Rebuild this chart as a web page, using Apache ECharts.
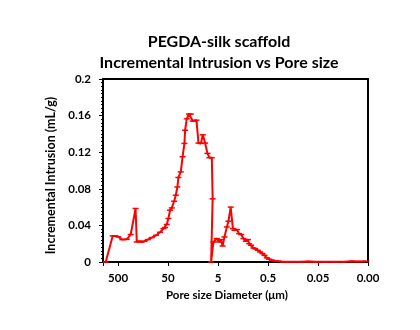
<!DOCTYPE html>
<html>
<head>
<meta charset="utf-8">
<script src="https://cdn.jsdelivr.net/npm/echarts@6/dist/echarts.min.js"></script>
<style>
html,body{margin:0;padding:0;background:#fff;}
#chart{width:420px;height:330px;}
</style>
</head>
<body>
<div id="chart"></div>
<script>
// Pore size diameter (µm), in measurement order
const poreDiameter = [
  883, 640, 562, 493, 410, 335, 279, 223, 211, 188, 168, 149, 127, 106, 86.9, 72.1, 61.9, 57.3, 53.0, 49.2,
  45.5, 42.1, 37.8, 35.0, 32.5, 31.0, 27.8, 25.6, 23.5, 22.8, 21.1, 19.0, 17.5, 16.0, 14.7, 13.5, 12.3, 11.0,
  10.1, 9.06, 8.15, 7.43, 6.65, 6.41, 6.87, 6.18, 5.28, 4.75, 4.40, 4.05, 3.72, 3.33, 3.09, 2.79, 2.52, 2.34,
  2.10, 1.89, 1.72, 1.55, 1.39, 1.26, 1.19, 1.09, 0.977, 0.904, 0.798, 0.718, 0.646, 0.588, 0.526, 0.473,
  0.418, 0.359, 0.308, 0.260, 0.216, 0.164, 0.113, 0.078, 0.054, 0.0358, 0.0236, 0.0156, 0.0103, 0.0071, 0.0054
];
// Incremental intrusion (mL/g)
const incrementalIntrusion = [
  0, 0.0285, 0.0285, 0.0274, 0.0245, 0.0248, 0.030, 0.0585, 0.0219, 0.0227, 0.0219, 0.0227, 0.0245, 0.0267, 0.0292, 0.0325, 0.0365, 0.0376, 0.041, 0.0475,
  0.0566, 0.0591, 0.0664, 0.073, 0.082, 0.0924, 0.0985, 0.115, 0.1296, 0.144, 0.1565, 0.1617, 0.1617, 0.154, 0.154, 0.155, 0.130, 0.1296,
  0.139, 0.130, 0.1187, 0.114, 0.114, 0.069, 0, 0.0219, 0.0256, 0.0219, 0.0245, 0.0175, 0.0274, 0.0383, 0.0446, 0.060, 0.0365, 0.0347,
  0.0354, 0.031, 0.030, 0.0256, 0.0227, 0.0245, 0.020, 0.0183, 0.0153, 0.0146, 0.0128, 0.011, 0.0092, 0.0073, 0.0045, 0.0030,
  0.0020, 0.0012, 0.0008, 0.0004, 0.0002, 0.0003, 0.0002, 0.0006, 0.0003, 0.0002, 0.0002, 0.0003, 0.0008, 0.0006, 0.0007
];
// X tick values (µm, from smallest = axis base) and their printed labels
const xTickValues = [0.005, 0.05, 0.5, 5, 50, 500];
const xTickLabels = ['0.00', '0.05', '0.5', '5', '50', '500'];
const xMin = 0.005, xMax = 1000;
const titleLines = ['PEGDA-silk scaffold', 'Incremental Intrusion vs Pore size'];
const xName = 'Pore size Diameter (\u03bcm)';
const yName = 'Incremental Intrusion (mL/g)';

const FONT = 'Lato';
// log-decade coordinate measured from the axis base (xMin)
const toDecade = d => Math.log10(d / xMin);
const seriesData = poreDiameter.map((d, i) => [toDecade(d), incrementalIntrusion[i]]);

function xLabel(v) {
  for (let i = 0; i < xTickValues.length; i++) {
    if (Math.abs(v - toDecade(xTickValues[i])) < 1e-6) return xTickLabels[i];
  }
  return '';
}

const chart = echarts.init(document.getElementById('chart'), null, {renderer: 'canvas'});
chart.setOption({
  backgroundColor: '#ffffff',
  animation: false,
  graphic: [
    {type: 'text', x: 219, y: 42, style: {text: titleLines[0], font: 'bold 16px ' + FONT, fill: '#000', textAlign: 'center', textVerticalAlign: 'middle'}},
    {type: 'text', x: 219, y: 62.5, style: {text: titleLines[1], font: 'bold 16px ' + FONT, fill: '#000', textAlign: 'center', textVerticalAlign: 'middle'}}
  ],
  grid: {left: 103, right: 52, top: 79, bottom: 68, show: true, borderColor: '#000', borderWidth: 2, backgroundColor: 'transparent'},
  xAxis: {
    type: 'value',
    inverse: true,
    min: 0,
    max: toDecade(xMax),
    interval: 1,
    name: xName,
    nameLocation: 'middle',
    nameGap: 27,
    nameTextStyle: {fontFamily: FONT, fontWeight: 'bold', fontSize: 11.5, color: '#000', padding: [0, 17, 0, 0]},
    axisLine: {show: true, onZero: false, lineStyle: {color: '#000', width: 2}},
    axisTick: {show: true, length: 4, lineStyle: {color: '#000', width: 1}},
    axisLabel: {formatter: xLabel, fontFamily: FONT, fontWeight: 'bold', fontSize: 11.5, color: '#000', margin: 10, showMinLabel: true, showMaxLabel: true},
    splitLine: {show: false}
  },
  yAxis: {
    type: 'value',
    min: 0,
    max: 0.2,
    interval: 0.04,
    name: yName,
    nameLocation: 'middle',
    nameGap: 46,
    nameTextStyle: {fontFamily: FONT, fontWeight: 'bold', fontSize: 12.5, color: '#000', padding: [0, 10, 0, 0]},
    axisLine: {show: true, onZero: false, lineStyle: {color: '#000', width: 2}},
    axisTick: {show: true, length: 4, lineStyle: {color: '#000', width: 1}},
    minorTick: {show: true, splitNumber: 10, length: 2, lineStyle: {color: '#000', width: 1}},
    axisLabel: {fontFamily: FONT, fontWeight: 'bold', fontSize: 11.5, color: '#000', margin: 12},
    splitLine: {show: false}
  },
  series: [{
    type: 'line',
    data: seriesData,
    symbol: 'rect',
    symbolSize: [6, 1.5],
    showAllSymbol: true,
    itemStyle: {color: '#ff0000'},
    lineStyle: {color: '#ff0000', width: 2},
    clip: false
  }]
});
</script>
</body>
</html>
